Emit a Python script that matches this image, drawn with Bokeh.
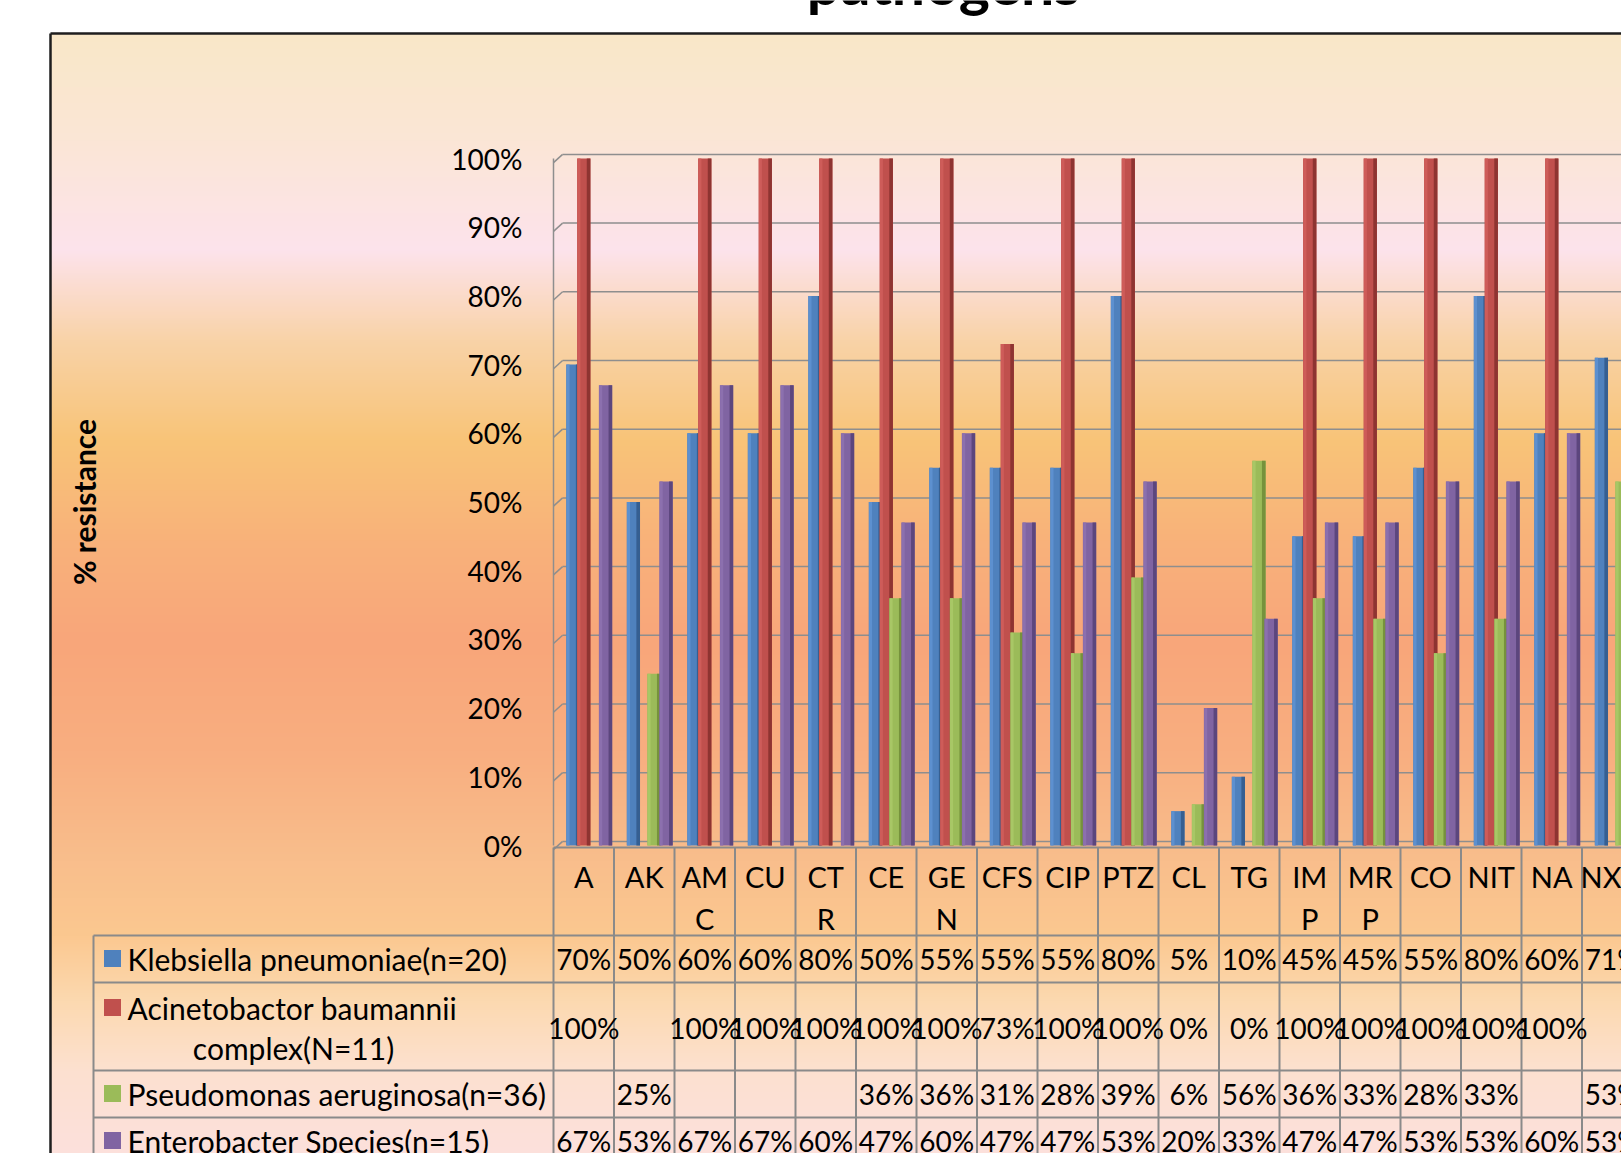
import numpy as np
from bokeh.plotting import figure
from bokeh.models import Range1d, LinearAxis, FixedTicker
from bokeh.core.properties import value
from bokeh.embed import file_html
from bokeh.resources import INLINE

# ---------------- data ----------------
categories = ["A", "AK", "AMC", "CU", "CTR", "CE", "GEN", "CFS", "CIP", "PTZ",
              "CL", "TG", "IMP", "MRP", "CO", "NIT", "NA", "NX"]
category_labels = ["A", "AK", "AM\nC", "CU", "CT\nR", "CE", "GE\nN", "CFS", "CIP", "PTZ",
                   "CL", "TG", "IM\nP", "MR\nP", "CO", "NIT", "NA", "NX"]
series_names = ["Klebsiella pneumoniae(n=20)",
                "Acinetobactor baumannii complex(N=11)",
                "Pseudomonas aeruginosa(n=36)",
                "Enterobacter Species(n=15)"]
klebsiella = [70, 50, 60, 60, 80, 50, 55, 55, 55, 80, 5, 10, 45, 45, 55, 80, 60, 71]
acinetobacter = [100, None, 100, 100, 100, 100, 100, 73, 100, 100, 0, 0, 100, 100, 100, 100, 100, None]
pseudomonas = [None, 25, None, None, None, 36, 36, 31, 28, 39, 6, 56, 36, 33, 28, 33, None, 53]
enterobacter = [67, 53, 67, 67, 60, 47, 60, 47, 47, 53, 20, 33, 47, 47, 53, 53, 60, 53]
y_ticks = [0, 10, 20, 30, 40, 50, 60, 70, 80, 90, 100]
y_tick_labels = ["0%", "10%", "20%", "30%", "40%", "50%", "60%", "70%", "80%", "90%", "100%"]
title_text = "pathogens"
y_axis_title = "% resistance"

series = [klebsiella, acinetobacter, pseudomonas, enterobacter]

# ---------------- layout / style ----------------
W, H = 1621, 1153
FONT = "Lato"
FS_VAL = "28px"
FS_LEG = "30px"
FS_CAT = "29px"


def X(fx):  # reference pixel x -> canvas px
    return fx


def Y(fy):  # reference pixel y (top-down) -> bottom-up canvas px
    return H - fy


PX0 = 553.0     # canvas x of first category edge
CW = 60.5       # category width in px
Y0 = 845.0      # canvas y of 0%
PPU = 6.87      # px per percent

x_start, x_end = -PX0 / CW, (W - PX0) / CW
y_start, y_end = -(H - Y0) / PPU, Y0 / PPU

p = figure(width=W, height=H, x_range=Range1d(x_start, x_end), y_range=Range1d(y_start, y_end),
           output_backend="svg", toolbar_location=None, tools="",
           x_axis_location=None, y_axis_location=None, min_border=0,
           outline_line_color=None, background_fill_color="white", border_fill_color="white")
p.grid.visible = False
p.extra_x_ranges = {"px": Range1d(0, W)}
p.extra_y_ranges = {"px": Range1d(0, H)}

# background gradient (inside chart border)
stops = [(33, "#F9E8C8"), (140, "#FBE6D6"), (250, "#FDE3EC"), (340, "#F9D3A8"),
         (440, "#F8C478"), (540, "#F8B27A"), (640, "#F8A67A"), (750, "#F8AE80"),
         (860, "#F9BE8C"), (935, "#FBC890"), (1000, "#FCD9B0"), (1070, "#FDE1D0"),
         (1153, "#FCE0DC")]
sy = np.array([s[0] for s in stops], dtype=float)
rgb = np.array([[int(c[1:3], 16), int(c[3:5], 16), int(c[5:7], 16)] for _, c in stops], dtype=float)
n_rows = int(Y(33))
fy = H - np.arange(n_rows) - 0.5
img = np.empty((n_rows, 1), dtype=np.uint32)
view = img.view(dtype=np.uint8).reshape((n_rows, 1, 4))
for k in range(3):
    view[:, 0, k] = np.interp(fy, sy, rgb[:, k]).astype(np.uint8)
view[:, 0, 3] = 255
p.image_rgba(image=[img], x=X(50), y=0, dw=W - X(50), dh=n_rows,
             x_range_name="px", y_range_name="px")

# chart border
p.segment(x0=[X(50), X(50)], y0=[Y(33), Y(33)], x1=[X(50), W], y1=[0, Y(33)],
          x_range_name="px", y_range_name="px", line_color="#1E1E1E", line_width=2.5)

# gridlines (back wall, with small 3D corner)
GRID = "#8E8E8E"
nx = len(categories)
p.segment(x0=[0.15] * len(y_ticks), y0=[t + 0.6 for t in y_ticks],
          x1=[x_end + 1] * len(y_ticks), y1=[t + 0.6 for t in y_ticks],
          line_color=GRID, line_width=1.5)
p.segment(x0=[0] * len(y_ticks), y0=[t - 0.6 for t in y_ticks],
          x1=[0.15] * len(y_ticks), y1=[t + 0.6 for t in y_ticks],
          line_color=GRID, line_width=1.5)

# bars
offsets = [0.32, 0.50, 0.66, 0.86]
bar_w = 0.22
face = ["#4F81BD", "#C0504D", "#9BBB59", "#8064A2"]
light = ["#5D90CF", "#CE5C59", "#A8C766", "#8C70AE"]
shade = ["#365F91", "#8E3431", "#76923C", "#5C467D"]
for s, vals in enumerate(series):
    xs = [i + offsets[s] for i, v in enumerate(vals) if v is not None]
    tops = [v for v in vals if v is not None]
    p.vbar(x=xs, top=tops, bottom=0, width=bar_w, fill_color=face[s], line_color=None)
    p.vbar(x=[x - bar_w / 2 + 0.03 for x in xs], top=tops, bottom=0, width=0.05,
           fill_color=light[s], line_color=None)
    p.vbar(x=[x + bar_w / 2 - 0.03 for x in xs], top=tops, bottom=0, width=0.06,
           fill_color=shade[s], line_color=None)

# data table lines
TL = "#8A8A8A"
p.segment(x0=[0], y0=[Y(847)], x1=[x_end + 1], y1=[Y(847)], y_range_name="px",
          line_color=TL, line_width=2)
p.segment(x0=list(range(nx + 1)), y0=[Y(847)] * (nx + 1), x1=list(range(nx + 1)), y1=[0] * (nx + 1),
          y_range_name="px", line_color=TL, line_width=2)
row_lines = [935, 982, 1070, 1117]
p.segment(x0=[X(93)] * len(row_lines), y0=[Y(r) for r in row_lines],
          x1=[W] * len(row_lines), y1=[Y(r) for r in row_lines],
          x_range_name="px", y_range_name="px", line_color=TL, line_width=2)
p.segment(x0=[X(93)], y0=[Y(935)], x1=[X(93)], y1=[0],
          x_range_name="px", y_range_name="px", line_color=TL, line_width=2)

# table values
row_centers = [958, 1027, 1093, 1140]
for s, vals in enumerate(series):
    xs = [i + 0.5 for i, v in enumerate(vals) if v is not None]
    txt = [f"{v}%" for v in vals if v is not None]
    p.text(x=xs, y=[Y(row_centers[s])] * len(xs), text=txt, y_range_name="px",
           text_font=value(FONT), text_font_size=FS_VAL, text_color="black",
           text_align="center", text_baseline="middle")

# legend keys in table
legend_y = [958, 1007, 1093, 1140]
p.rect(x=[X(112)] * 4, y=[Y(v) for v in legend_y], width=17, height=17,
       x_range_name="px", y_range_name="px", fill_color=face, line_color=None)
first_lines, second_lines = [], []
for nm in series_names:
    if "complex" in nm:
        a, b = nm.rsplit(" ", 1)
        first_lines.append(a)
        second_lines.append(b)
    else:
        first_lines.append(nm)
p.text(x=[X(127)] * 4, y=[Y(v) for v in legend_y], text=first_lines,
       x_range_name="px", y_range_name="px", text_font=value(FONT), text_font_size=FS_LEG,
       text_color="black", text_align="left", text_baseline="middle")
p.text(x=[X(293)], y=[Y(1047)], text=second_lines,
       x_range_name="px", y_range_name="px", text_font=value(FONT), text_font_size=FS_LEG,
       text_color="black", text_align="center", text_baseline="middle")

# title (cut at top, as in the reference)
p.text(x=[X(943)], y=[Y(17)], text=[title_text], x_range_name="px", y_range_name="px",
       text_font=value(FONT), text_font_size="59px", text_font_style="bold",
       text_color="black", text_align="center", text_baseline="bottom")

# y axis
yax = LinearAxis(fixed_location=0, ticker=FixedTicker(ticks=y_ticks), bounds=(0, 100),
                 major_label_overrides={t: l for t, l in zip(y_ticks, y_tick_labels)},
                 axis_line_color=GRID, axis_line_width=1.5,
                 major_tick_line_color=None, minor_tick_line_color=None,
                 major_tick_in=0, major_tick_out=0, major_label_standoff=31,
                 major_label_text_font=FONT, major_label_text_font_size=FS_VAL,
                 major_label_text_color="black",
                 axis_label=y_axis_title, axis_label_text_font=FONT,
                 axis_label_text_font_size="30px", axis_label_text_font_style="bold",
                 axis_label_text_color="black", axis_label_standoff=346)
p.add_layout(yax, "left")

# category axis (header row of the data table)
xax = LinearAxis(fixed_location=0, ticker=FixedTicker(ticks=[i + 0.5 for i in range(nx)]),
                 major_label_overrides={i + 0.5: lab for i, lab in enumerate(category_labels)},
                 axis_line_color=None, major_tick_line_color=None, minor_tick_line_color=None,
                 major_tick_in=0, major_tick_out=0, major_label_standoff=13,
                 major_label_text_font=FONT, major_label_text_font_size=FS_CAT,
                 major_label_text_color="black", major_label_text_line_height=1.2)
p.add_layout(xax, "below")

open("out.html", "w").write(file_html(p, INLINE))
